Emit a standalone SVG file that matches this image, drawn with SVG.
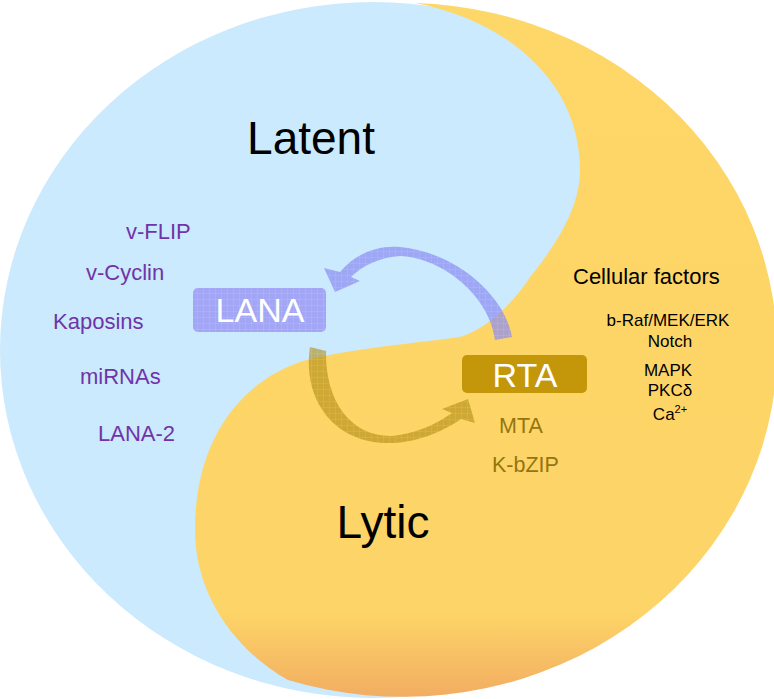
<svg xmlns="http://www.w3.org/2000/svg" width="774" height="699" viewBox="0 0 774 699">
  <defs>
    <linearGradient id="lyticGrad" x1="0" y1="0" x2="0" y2="697" gradientUnits="userSpaceOnUse">
      <stop offset="0" stop-color="#fdd768"/>
      <stop offset="0.88" stop-color="#fdd467"/>
      <stop offset="1" stop-color="#f2ad62"/>
    </linearGradient>
    <pattern id="grid" width="6" height="6" patternUnits="userSpaceOnUse">
      <path d="M6 0V6M0 6H6" fill="none" stroke="#ffffff" stroke-opacity="0.22" stroke-width="0.8"/>
    </pattern>
  </defs>
  <style>
    .sans { font-family: "Liberation Sans", Arial, sans-serif; }
    .purple { fill: #7034a8; font-size: 22px; }
    .cell { fill: #000000; font-size: 17px; text-anchor: middle; }
    .gold { fill: #94750f; font-size: 21.5px; }
    .title { fill: #000000; font-size: 46px; text-anchor: middle; }
    .nodeText { fill: #ffffff; font-size: 34px; text-anchor: middle; }
  </style>

  <g id="background">
    <ellipse cx="373" cy="350" rx="373" ry="348" fill="#cbeafd"/>
    <path d="M 415,3 A 374 347 0 1 1 288,680 C 235,650 195,595 195,530 C 195,445 235,385 300,362 C 340,350 400,345 460,337 C 490,328 515,300 530,277 C 560,240 580,205 580,170 C 580,80 505,20 415,3 Z" fill="url(#lyticGrad)"/>
  </g>

  <g id="connectors">
    <g id="arrow-rta-lana">
      <path d="M 512,337 C 505,295 455,252 400,247 C 376,245 354,255 340,272 L 324,268 L 335,292 L 360,281 L 351,277 C 363,265 381,257 400,256 C 445,258 490,298 495,340 Z" fill="#8c8ef0" fill-opacity="0.72"/>
      <path d="M 512,337 C 505,295 455,252 400,247 C 376,245 354,255 340,272 L 324,268 L 335,292 L 360,281 L 351,277 C 363,265 381,257 400,256 C 445,258 490,298 495,340 Z" fill="url(#grid)"/>
    </g>
    <g id="arrow-lana-rta">
      <path d="M 310,347 C 302,400 335,445 392,443 C 420,442 445,430 461,419 L 475,423 L 468,399 L 442,409 L 452,413 C 432,427 412,434 392,436 C 350,437 325,400 326,351 Z" fill="#ae8a14" fill-opacity="0.6"/>
      <path d="M 310,347 C 302,400 335,445 392,443 C 420,442 445,430 461,419 L 475,423 L 468,399 L 442,409 L 452,413 C 432,427 412,434 392,436 C 350,437 325,400 326,351 Z" fill="url(#grid)"/>
    </g>
  </g>

  <g id="latent-label">
    <text class="sans title" x="311" y="154">Latent</text>
  </g>
  <g id="lytic-label">
    <text class="sans title" x="383" y="538">Lytic</text>
  </g>

  <g id="LANA">
    <rect x="193" y="288" width="133" height="44" rx="5" fill="#a3a6f4"/>
    <rect x="193" y="288" width="133" height="44" rx="5" fill="url(#grid)"/>
    <text class="sans nodeText" x="260" y="322">LANA</text>
  </g>

  <g id="RTA">
    <rect x="462" y="355" width="125" height="38" rx="5" fill="#c4960a"/>
    <text class="sans nodeText" x="525" y="387">RTA</text>
  </g>

  <g id="latent-genes">
    <text class="sans purple" x="126" y="239">v-FLIP</text>
    <text class="sans purple" x="86" y="280">v-Cyclin</text>
    <text class="sans purple" x="53" y="329">Kaposins</text>
    <text class="sans purple" x="80" y="384">miRNAs</text>
    <text class="sans purple" x="98" y="441">LANA-2</text>
  </g>

  <g id="lytic-genes">
    <text class="sans gold" x="499" y="433">MTA</text>
    <text class="sans gold" x="492" y="472">K-bZIP</text>
  </g>

  <g id="cellular-factors">
    <text class="sans" x="573" y="284" font-size="22" fill="#000000">Cellular factors</text>
    <text class="sans cell" x="668" y="326">b-Raf/MEK/ERK</text>
    <text class="sans cell" x="670" y="347">Notch</text>
    <text class="sans cell" x="668" y="376">MAPK</text>
    <text class="sans cell" x="670" y="396">PKCδ</text>
    <text class="sans cell" x="670" y="420">Ca<tspan font-size="11" dy="-7">2+</tspan></text>
  </g>
</svg>
